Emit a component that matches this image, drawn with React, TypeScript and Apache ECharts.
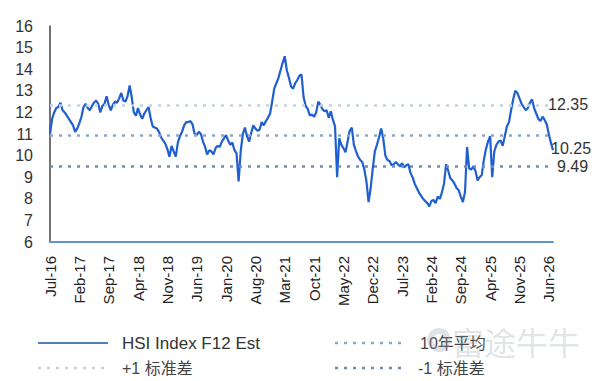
import { useEffect, useRef } from "react";
import * as echarts from "echarts";

// HSI forward 12-month P/E, half-monthly readings from Jul-16
const HSI_F12 = [
  11.0, 11.7, 12.0, 12.2, 12.25, 12.45, 12.1, 12.0, 11.85, 11.7,
  11.55, 11.4, 11.1, 11.25, 11.5, 11.8, 12.25, 12.4, 12.2, 12.1,
  12.3, 12.45, 12.55, 12.4, 12.0, 12.3, 12.4, 12.75, 12.35, 12.1,
  12.35, 12.5, 12.45, 12.65, 12.9, 12.55, 12.5, 12.75, 13.25, 12.7,
  12.0, 11.85, 12.2, 11.9, 11.7, 11.95, 12.1, 12.25, 11.75, 11.35,
  11.3, 11.25, 11.1, 10.85, 10.7, 10.55, 10.3, 9.95, 10.45, 10.2,
  9.95, 10.6, 10.9, 11.1, 11.4, 11.55, 11.55, 11.6, 11.45, 11.0,
  10.95, 11.1, 11.0, 10.65, 10.4, 10.05, 10.25, 10.2, 10.05, 10.35,
  10.45, 10.4, 10.65, 10.8, 10.95, 10.7, 10.5, 10.6, 10.25, 10.1,
  8.8, 10.2, 11.0, 11.3, 10.9, 10.65, 11.05, 11.4, 11.25, 11.15,
  11.2, 11.55, 11.4, 11.6, 11.75, 11.95, 12.5, 13.1, 13.35, 13.6,
  13.95, 14.3, 14.6, 13.95, 13.6, 13.2, 13.1, 13.35, 13.5, 13.7,
  13.75, 12.7, 12.3, 12.15, 11.85, 11.9, 11.8, 12.0, 12.5, 12.35,
  12.15, 12.05, 12.1, 11.75, 12.05, 11.65, 11.35, 9.0, 10.8, 10.5,
  10.35, 10.15, 10.65, 11.15, 11.3, 10.5, 10.2, 9.95, 9.8, 9.7,
  9.35, 8.8, 7.85, 8.5, 9.4, 10.2, 10.5, 10.85, 11.25, 10.8,
  10.0, 9.8, 9.75, 9.55, 9.6, 9.7, 9.6, 9.5, 9.65, 9.45,
  9.55, 9.6, 9.2, 9.0, 8.7, 8.5, 8.3, 8.15, 8.0, 7.9,
  7.8, 7.65, 7.9, 7.95, 7.8, 8.1, 8.0, 8.3, 8.7, 9.6,
  9.3, 8.95, 8.85, 8.7, 8.5, 8.4, 8.1, 7.85, 8.3, 10.4,
  9.4, 9.35, 9.5, 9.3, 8.85, 9.0, 9.1, 9.8, 10.3, 10.65,
  10.9, 9.0, 10.2, 10.5, 10.65, 10.7, 10.45, 10.9, 11.35, 11.55,
  12.1, 12.6, 13.0, 12.9, 12.65, 12.4, 12.25, 12.1, 12.2, 12.45,
  12.6, 12.2, 11.95, 11.7, 11.6, 11.8, 11.65, 11.45, 11.0, 10.6, 10.25,
];

const PLUS_ONE_SD = 12.35;
const TEN_YEAR_AVG = 10.92;
const MINUS_ONE_SD = 9.49;

const Y_MIN = 6;
const Y_MAX = 16;
const Y_STEP = 1;

const MONTHS = ["Jan", "Feb", "Mar", "Apr", "May", "Jun", "Jul", "Aug", "Sep", "Oct", "Nov", "Dec"];
const START_YEAR = 2016;
const START_MONTH = 6; // July
const TICK_EVERY = 14; // one tick label every 7 months

const LEGEND_LABELS = ["HSI Index F12 Est", "+1 标准差", "10年平均", "-1 标准差"];

// Two readings per month: the 1st and the 15th
const categories = HSI_F12.map((_, i) => {
  const m = START_MONTH + Math.floor(i / 2);
  const y = START_YEAR + Math.floor(m / 12);
  const mm = (m % 12) + 1;
  return `${y}-${String(mm).padStart(2, "0")}-${i % 2 ? "15" : "01"}`;
});

const tickLabel = (iso: string) => {
  const [y, m] = iso.split("-");
  return `${MONTHS[Number(m) - 1]}-${y.slice(2)}`;
};

const FONT = "'Liberation Sans', Arial, sans-serif";
const CJK_FONT = "'Liberation Sans', 'Noto Sans CJK SC', sans-serif";

const LINE_BLUE = "#1f5fcf";
const SD_UP = "#c4d2e2";
const AVG = "#8fa7c6";
const SD_DOWN = "#6f8db6";

export default function App() {
  const ref = useRef<HTMLDivElement>(null);

  useEffect(() => {
    if (!ref.current) return;
    const chart = echarts.init(ref.current, null, { renderer: "svg" });

    const dotted = (color: string) => ({ color, type: [3, 6] as number[], width: 2.5 });

    chart.setOption({
      animation: false,
      backgroundColor: "#ffffff",
      grid: { left: 50, right: 50, top: 26, bottom: 139 },
      xAxis: {
        type: "category",
        data: categories,
        boundaryGap: false,
        axisLine: { onZero: false, lineStyle: { color: "#5f93d3", width: 2 } },
        axisTick: { show: false },
        splitLine: { show: false },
        axisLabel: {
          interval: TICK_EVERY - 1,
          rotate: 90,
          margin: 14,
          fontSize: 15,
          color: "#222",
          fontFamily: FONT,
          formatter: (v: string) => tickLabel(v),
        },
      },
      yAxis: {
        type: "value",
        min: Y_MIN,
        max: Y_MAX,
        interval: Y_STEP,
        axisLine: { show: true, lineStyle: { color: "#444", width: 1.5 } },
        axisTick: { show: false },
        splitLine: { show: false },
        axisLabel: { margin: 17, fontSize: 16, color: "#333", fontFamily: FONT },
      },
      series: [
        {
          name: LEGEND_LABELS[0],
          type: "line",
          data: HSI_F12,
          showSymbol: false,
          lineStyle: { color: LINE_BLUE, width: 2.2 },
          endLabel: {
            show: true,
            formatter: (p: any) => Number(p.value).toFixed(2),
            fontSize: 16,
            color: "#333",
            fontFamily: FONT,
            distance: -2,
            offset: [0, -2],
          },
          markLine: {
            silent: true,
            symbol: "none",
            data: [
              {
                yAxis: PLUS_ONE_SD,
                lineStyle: dotted(SD_UP),
                label: { show: true, position: "end", distance: -5, formatter: "{c}" },
              },
              { yAxis: TEN_YEAR_AVG, lineStyle: dotted(AVG), label: { show: false } },
              {
                yAxis: MINUS_ONE_SD,
                lineStyle: dotted(SD_DOWN),
                label: { show: true, position: "end", distance: 4, formatter: "{c}" },
              },
            ],
            label: { fontSize: 16, color: "#333", fontFamily: FONT },
          },
          z: 3,
        },
      ],
      graphic: [
        // legend, two columns by two rows
        { type: "line", shape: { x1: 38, y1: 343, x2: 108, y2: 343 }, style: { stroke: "#4f7fb8", lineWidth: 2 } },
        { type: "text", x: 122, y: 343, style: { text: LEGEND_LABELS[0], font: `17px ${FONT}`, fill: "#333", verticalAlign: "middle" } },
        { type: "line", shape: { x1: 38, y1: 368, x2: 108, y2: 368 }, style: { stroke: SD_UP, lineWidth: 2.5, lineDash: [3, 6] } },
        { type: "text", x: 122, y: 368, style: { text: LEGEND_LABELS[1], font: `16px ${CJK_FONT}`, fill: "#444", verticalAlign: "middle" } },
        { type: "line", shape: { x1: 335, y1: 343, x2: 405, y2: 343 }, style: { stroke: AVG, lineWidth: 2.5, lineDash: [3, 6] } },
        { type: "text", x: 420, y: 343, style: { text: LEGEND_LABELS[2], font: `16px ${CJK_FONT}`, fill: "#444", verticalAlign: "middle" } },
        { type: "line", shape: { x1: 335, y1: 368, x2: 405, y2: 368 }, style: { stroke: SD_DOWN, lineWidth: 2.5, lineDash: [3, 6] } },
        { type: "text", x: 418, y: 368, style: { text: LEGEND_LABELS[3], font: `16px ${CJK_FONT}`, fill: "#444", verticalAlign: "middle" } },
        // watermark
        { type: "ring", shape: { cx: 439, cy: 340, r: 12, r0: 6 }, style: { fill: "rgba(150,160,175,0.3)" } },
        { type: "text", x: 452, y: 341, style: { text: "富途牛牛", font: `32px 'Noto Sans CJK SC', sans-serif`, fill: "rgba(150,160,175,0.3)", verticalAlign: "middle" } },
      ],
    });

    return () => chart.dispose();
  }, []);

  return (
    <div
      ref={ref}
      style={{ position: "fixed", left: 0, top: 0, width: 603, height: 381, background: "#fff" }}
    />
  );
}
